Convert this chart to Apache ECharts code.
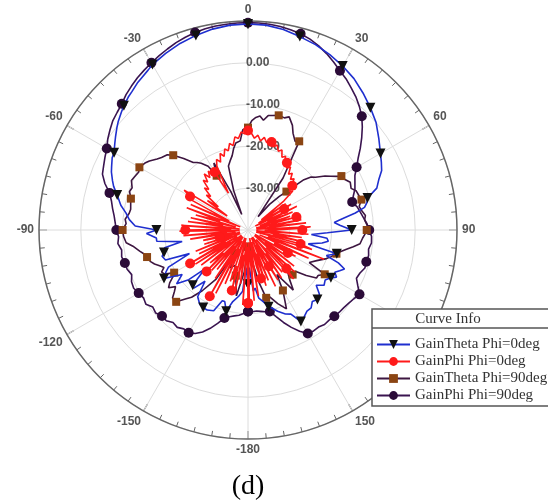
<!DOCTYPE html>
<html><head><meta charset="utf-8">
<script src="https://cdn.jsdelivr.net/npm/echarts@6/dist/echarts.min.js"></script>
<style>html,body{margin:0;padding:0;background:#fff}#c{width:548px;height:502px}</style>
</head><body><div id="c"></div>
<script>
// angle tick labels (degrees) and radial ticks (dB)
const angleTicks = [0, 30, 60, 90, 120, 150, -180, -150, -120, -90, -60, -30];
const radialTicks = [-30, -20, -10, 0];
const seriesNames = ['GainTheta Phi=0deg', 'GainPhi Phi=0deg', 'GainTheta Phi=90deg', 'GainPhi Phi=90deg'];

// [angle (deg), gain (dB)]
const gainThetaPhi0 = [[-180,-27],[-177,-31],[-175,-25.3],[-172,-24],[-168,-22.5],[-165,-19.9],[-162,-22],[-160,-22],[-157,-19],[-153,-18.5],[-150,-18.6],[-147,-18.8],[-143,-20],[-140,-24],[-137,-21],[-135,-21.3],[-132,-26],[-130,-21.5],[-127,-18.6],[-124,-21],[-120,-16.8],[-117,-18],[-115,-19],[-112,-24.9],[-110,-19],[-107,-18.5],[-105,-19.2],[-102,-19.6],[-100,-24],[-97,-18],[-95,-18],[-92,-15.7],[-90,-18.1],[-88,-13],[-85,-11.5],[-82,-10.5],[-79,-9],[-75,-7.6],[-72,-6.2],[-70,-5.5],[-67,-4.5],[-65,-4],[-62,-3.2],[-60,-3],[-57,-2],[-55,-1.3],[-52,-0.2],[-50,0.5],[-47,1.4],[-45,2],[-42,2.8],[-40,3.2],[-37,4],[-35,4.4],[-32,5.1],[-30,5.7],[-25,6.6],[-20,7.5],[-15,8.2],[-10,8.8],[-5,9.2],[0,9.3],[5,9.2],[10,8.7],[15,7.9],[20,7.2],[25,6.3],[30,5.3],[35,4.2],[40,2.8],[45,1.4],[50,0],[55,-1.8],[60,-3.4],[63,-4.2],[66,-5],[69,-6.5],[72,-7.6],[75,-10.4],[77,-10.8],[79,-11.6],[81,-14],[83,-17],[85,-19.3],[87,-18],[90,-15.2],[92,-21],[94,-24.8],[96,-21],[98,-20.6],[100,-22],[103,-25.2],[105,-18],[108,-20.3],[110,-17],[112,-15.1],[114,-16],[116,-16.9],[118,-16],[120,-17.1],[123,-18],[126,-17.5],[129,-19],[132,-17],[135,-16.5],[138,-17],[141,-16],[144,-16],[147,-15.3],[150,-14.7],[153,-17.4],[156,-18],[160,-19.3],[163,-20.5],[165,-21],[168,-22.5],[171,-23.5],[173,-26],[175,-25.3],[178,-31],[180,-27]];

const gainPhiPhi0 = [[-180,-22.5],[-178,-36],[-176,-22],[-174,-37],[-172,-27],[-170,-34],[-168,-25],[-166,-38],[-165,-25],[-163,-31],[-161,-27],[-159,-38],[-157,-26],[-155,-35],[-153,-23],[-151,-37],[-150,-21.7],[-148,-33],[-146,-26],[-144,-38],[-142,-28],[-140,-35],[-138,-27],[-136,-38],[-135,-26],[-133,-32],[-131,-28],[-129,-38],[-127,-26],[-125,-35],[-123,-25],[-121,-37],[-120,-24],[-118,-34],[-116,-27],[-114,-38],[-112,-26.5],[-110,-36],[-108,-29],[-106,-38],[-105,-33],[-103,-29],[-101,-37],[-99,-26],[-97,-35],[-95,-24.5],[-93,-38],[-91,-23.6],[-90,-25],[-88,-36],[-86,-24],[-84,-38],[-82,-25.5],[-80,-34],[-78,-26],[-76,-37],[-74,-27],[-72,-33],[-70,-24.4],[-68,-38],[-66,-25],[-64,-35],[-62,-23],[-60,-24],[-58,-22],[-56,-34],[-54,-28],[-52,-31],[-50,-27],[-48,-28],[-46,-25.5],[-44,-26.5],[-42,-24],[-40,-25],[-38,-23],[-36,-24.5],[-34,-23],[-32,-25],[-30,-24],[-28,-30],[-26,-23],[-24,-21.5],[-22,-22.5],[-20,-20.5],[-18,-21.5],[-16,-19.8],[-14,-20.5],[-12,-18.8],[-10,-19.5],[-8,-17.5],[-6,-18],[-4,-16.5],[-2,-17],[0,-16.2],[2,-16.8],[4,-18],[6,-17.2],[8,-18.5],[10,-17.5],[12,-18.6],[14,-17.8],[15,-18.2],[17,-19.2],[19,-18.5],[21,-19.8],[23,-19.2],[25,-20.8],[27,-20.2],[29,-21.8],[30,-21.4],[32,-22.5],[34,-21.8],[36,-23.5],[38,-22.8],[40,-24.2],[42,-23.5],[44,-25],[45,-25],[47,-26.5],[49,-25.8],[51,-29],[53,-36],[55,-29],[57,-37],[59,-28],[60,-30],[62,-38],[64,-27],[66,-35],[68,-28.5],[70,-37],[72,-29.4],[74,-34],[75,-28],[77,-38],[79,-27],[81,-35],[83,-26],[85,-38],[87,-25],[88,-27],[90,-27],[92,-36],[94,-25.5],[96,-38],[98,-27],[100,-34],[102,-26],[104,-38],[105,-27],[107,-24],[109,-35],[111,-20.5],[113,-37],[115,-24],[117,-33],[119,-27],[120,-29],[122,-38],[124,-28.5],[126,-35],[128,-26],[130,-38],[132,-25],[134,-34],[135,-27],[137,-24],[139,-37],[141,-27],[143,-33],[145,-26],[147,-38],[149,-26],[150,-30],[152,-36],[154,-25],[156,-38],[158,-27],[160,-34],[162,-26],[164,-37],[165,-28],[167,-31],[169,-38],[171,-24],[173,-35],[175,-23],[177,-37],[179,-22.5],[180,-22.5]];

const gainThetaPhi90 = [[-180,-36],[-175,-30],[-170,-24],[-165,-28.7],[-160,-31],[-155,-30],[-150,-33.6],[-147,-26],[-143,-21.8],[-140,-19],[-138,-17.9],[-135,-15.7],[-132,-15.7],[-130,-17],[-128,-18],[-126,-16.5],[-124,-17.4],[-122,-18.8],[-120,-19.6],[-118,-17.5],[-116,-17],[-114,-18],[-112,-17.2],[-110,-16.2],[-108,-15.5],[-105,-15],[-103,-14.5],[-101,-13.6],[-98,-12.2],[-96,-10.7],[-93,-10.2],[-90,-10],[-87,-10.8],[-85,-10.5],[-82,-11.3],[-80,-11.5],[-77,-11.2],[-75,-11],[-72,-10.2],[-70,-10.5],[-67,-9.7],[-65,-10],[-62,-10.4],[-60,-10],[-57,-10.6],[-55,-11.2],[-52,-12.4],[-50,-13],[-47,-13.6],[-45,-14.7],[-42,-17],[-39,-19.2],[-37,-19.8],[-35,-20.5],[-32,-22],[-30,-25],[-27,-22],[-24,-30],[-22,-36],[-20,-30],[-17,-24],[-14,-22.7],[-12,-21.8],[-10,-20.2],[-8,-19],[-5,-18.6],[-3,-16],[0,-15.5],[2,-13.8],[4,-13],[6,-12.6],[8,-13.5],[10,-12.2],[12,-12],[15,-11.6],[18,-11.8],[20,-11.2],[23,-12.8],[25,-14.5],[28,-16],[30,-15.5],[34,-25],[37,-36],[40,-32],[43,-29],[45,-27],[48,-22],[50,-20.3],[52,-19.5],[55,-17.5],[57,-16.4],[59,-15.1],[60,-14.2],[62,-14],[65,-13],[68,-13.4],[70,-12.5],[73,-12.2],[75,-11.9],[78,-12.8],[80,-12.5],[83,-11.7],[85,-12],[88,-11.4],[90,-11.6],[92,-12],[94,-12.5],[97,-13],[99,-14.5],[101,-16],[103,-17.2],[105,-18.1],[108,-19.2],[110,-20],[114,-22],[118,-23.4],[120,-18.8],[123,-20],[125,-20],[128,-22.3],[131,-25],[135,-24.9],[137,-26],[140,-24.5],[143,-22],[147,-27.3],[150,-23.3],[154,-19],[158,-21],[162,-23.2],[165,-23.2],[168,-27],[172,-32],[176,-35],[180,-36]];

const gainPhiPhi90 = [[-180,-20.5],[-177,-20],[-174,-19.5],[-171,-19.2],[-168,-18.8],[-165,-18.2],[-162,-16.5],[-159,-14.8],[-156,-13.3],[-153,-12.2],[-150,-11.6],[-147,-11.8],[-144,-11.2],[-141,-11.5],[-138,-10.8],[-135,-10.9],[-132,-10.3],[-129,-10.7],[-126,-9.8],[-123,-10.2],[-120,-9.8],[-117,-9.3],[-114,-9.5],[-111,-10.2],[-108,-9.6],[-105,-9.5],[-102,-9.1],[-99,-9.4],[-96,-8.7],[-93,-9],[-90,-8.5],[-87,-8.2],[-84,-7.8],[-81,-7.2],[-78,-6.6],[-75,-5.7],[-72,-4],[-69,-2.7],[-66,-2.2],[-63,-1.6],[-60,-1],[-57,0],[-54,0.8],[-51,1.6],[-48,2.1],[-45,2.7],[-42,3.6],[-39,4.3],[-36,5],[-33,5.6],[-30,6.2],[-27,6.8],[-24,7.4],[-21,8],[-18,8.5],[-15,8.9],[-12,9.2],[-9,9.4],[-6,9.5],[-3,9.6],[0,9.6],[3,9.6],[6,9.5],[9,9.3],[12,9],[15,8.6],[18,8],[21,7.2],[24,6.2],[27,5.1],[30,4],[33,3.1],[36,2],[39,1],[42,-0.2],[45,-1.5],[48,-3.2],[51,-5],[54,-6.8],[57,-8.6],[60,-10],[63,-11.3],[66,-12],[69,-12.6],[72,-13.5],[75,-14.2],[78,-13.3],[81,-12.8],[84,-12.2],[87,-11.5],[90,-11],[93,-10.4],[96,-10.3],[99,-10.8],[102,-10.5],[105,-10.7],[108,-10.6],[111,-11.3],[114,-11.6],[117,-10.5],[120,-9.2],[123,-9.8],[126,-10.2],[129,-10.5],[132,-10.6],[135,-10.8],[138,-11],[141,-10.9],[144,-11.3],[147,-11.2],[150,-11.4],[153,-12.8],[156,-14.5],[159,-16.3],[162,-18.2],[165,-19.8],[168,-20],[171,-20.3],[174,-20.5],[177,-20.4],[180,-20.5]];

// ECharts polar data is [radius, angle]; angles mapped onto a 0..360 clockwise axis.
// Markers only every 15 degrees (as in the source plot).
const toPolar = arr => arr.map(([a, g]) => {
  const item = {value: [g, a < 0 ? a + 360 : a]};
  if (a % 15 !== 0) item.symbol = 'none';
  return item;
});
const fmtAngle = v => { if (v === 360) return ''; const a = v >= 180 ? v - 360 : v; return angleTicks.includes(a) ? String(a) : ''; };

const chart = echarts.init(document.getElementById('c'), null, {renderer: 'canvas'});
const lbl = {fontFamily: 'Liberation Sans, Arial', fontSize: 12, color: '#555', fontWeight: 'bold'};
chart.setOption({
  animation: false,
  backgroundColor: '#fff',
  polar: {center: [248, 230], radius: 209},
  angleAxis: {
    type: 'value', min: 0, max: 360, interval: 30, startAngle: 90, clockwise: true,
    axisLine: {lineStyle: {color: '#666', width: 1.5}},
    axisTick: {show: true, inside: true, length: 8, lineStyle: {color: '#666', width: 1.2}},
    minorTick: {show: true, splitNumber: 6, length: 5, lineStyle: {color: '#666', width: 1}},
    splitLine: {show: true, lineStyle: {color: '#dcdcdc', width: 1}},
    axisLabel: Object.assign({margin: 5, formatter: fmtAngle}, lbl)
  },
  radiusAxis: {
    type: 'value', min: -40, max: 10, interval: 10,
    axisLine: {show: false}, axisTick: {show: false},
    splitLine: {show: true, lineStyle: {color: '#dcdcdc', width: 1}},
    axisLabel: Object.assign({margin: 2, align: 'left', verticalAlign: 'middle',
      formatter: v => radialTicks.includes(v) ? v.toFixed(2) : ''}, lbl)
  },
  legend: {
    orient: 'vertical', left: 376, top: 337, itemWidth: 33, itemHeight: 11, itemGap: 2, padding: 0, z: 10,
    textStyle: {fontFamily: 'Liberation Serif, Times New Roman, serif', fontSize: 15, color: '#333'},
    data: seriesNames
  },
  graphic: [
    {type: 'rect', z: 8, shape: {x: 372, y: 309, width: 190, height: 97}, style: {fill: '#fff', stroke: '#555', lineWidth: 1.5}},
    {type: 'line', z: 9, shape: {x1: 372, y1: 328, x2: 548, y2: 328}, style: {stroke: '#555', lineWidth: 1.5}},
    {type: 'text', z: 9, x: 448, y: 319, style: {text: 'Curve Info', font: '15px "Liberation Serif", serif', fill: '#333', textAlign: 'center', textVerticalAlign: 'middle'}},
    {type: 'text', z: 9, x: 248, y: 487, style: {text: '(d)', font: '28px "Liberation Serif", serif', fill: '#000', textAlign: 'center', textVerticalAlign: 'middle'}}
  ],
  series: [
    {name: seriesNames[0], type: 'line', coordinateSystem: 'polar', z: 4, data: toPolar(gainThetaPhi0),
     symbol: 'triangle', symbolRotate: 180, symbolSize: 10,
     lineStyle: {color: '#1f2fcf', width: 1.6}, itemStyle: {color: '#111'}},
    {name: seriesNames[1], type: 'line', coordinateSystem: 'polar', z: 5, data: toPolar(gainPhiPhi0),
     symbol: 'circle', symbolSize: 10,
     lineStyle: {color: '#ff1a1a', width: 1.6}, itemStyle: {color: '#ff1a1a'}},
    {name: seriesNames[2], type: 'line', coordinateSystem: 'polar', z: 3, data: toPolar(gainThetaPhi90),
     symbol: 'rect', symbolSize: 8,
     lineStyle: {color: '#3d1640', width: 1.6}, itemStyle: {color: '#8b4513'}},
    {name: seriesNames[3], type: 'line', coordinateSystem: 'polar', z: 2, data: toPolar(gainPhiPhi90),
     symbol: 'circle', symbolSize: 10,
     lineStyle: {color: '#3a1450', width: 1.6}, itemStyle: {color: '#2b0b38'}}
  ]
});
</script></body></html>
